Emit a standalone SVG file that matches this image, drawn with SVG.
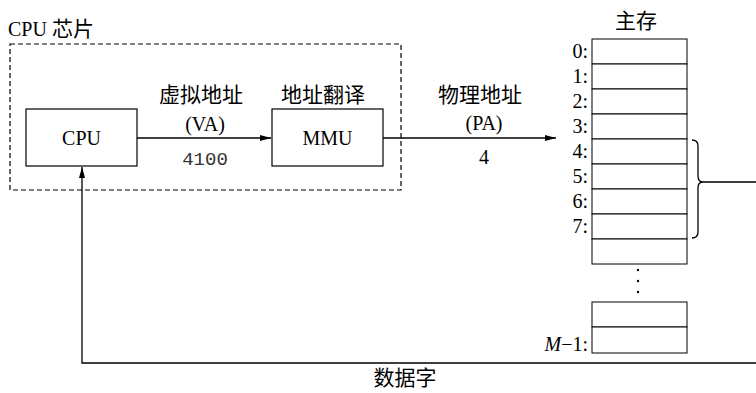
<svg xmlns="http://www.w3.org/2000/svg" width="756" height="393" viewBox="0 0 756 393">
<style>
.t{font-family:"Liberation Serif","Noto Sans CJK SC",serif;font-size:20px;fill:#000}
.c{font-family:"Noto Sans CJK SC","Liberation Serif",sans-serif;font-size:21px;fill:#000}
.m{font-family:"Liberation Mono",monospace;font-size:19px;fill:#333}
.box{fill:#fff;stroke:#000;stroke-width:1.2}
.cell{fill:#fff;stroke:#000;stroke-width:1}
.ln{fill:none;stroke:#000;stroke-width:1.3}
</style>
<defs>
<marker id="ah" markerWidth="12" markerHeight="8" refX="11" refY="4" orient="auto" markerUnits="userSpaceOnUse">
<path d="M0,1 L11,4 L0,7 Z" fill="#000"/>
</marker>
</defs>
<rect x="0" y="0" width="756" height="393" fill="#fff"/>
<g id="chip">
<rect x="10" y="44" width="391" height="146" fill="none" stroke="#000" stroke-width="1.2" stroke-dasharray="5,3"/>
<text class="t" x="8" y="36">CPU <tspan class="c">芯片</tspan></text>
</g>
<g id="connectors">
<line class="ln" x1="137" y1="138" x2="271" y2="138" marker-end="url(#ah)"/>
<line class="ln" x1="383" y1="138" x2="556" y2="138" marker-end="url(#ah)"/>
<path class="ln" d="M703,182 H760 V363 H82 V167" marker-end="url(#ah)"/>
<path class="ln" d="M692,140 Q698,140 698,146 V176 Q698,182 703,182 Q698,182 698,188 V232 Q698,238 692,238"/>
</g>
<g id="cpu">
<rect class="box" x="26" y="109" width="111" height="57"/>
<text class="t" x="81.5" y="145" text-anchor="middle">CPU</text>
</g>
<g id="mmu">
<rect class="box" x="272" y="109" width="111" height="57"/>
<text class="t" x="327.5" y="145" text-anchor="middle">MMU</text>
<text class="c" x="323" y="102" text-anchor="middle">地址翻译</text>
</g>
<g id="va-label">
<text class="c" x="201" y="102" text-anchor="middle">虚拟地址</text>
<text class="t" x="205" y="131" text-anchor="middle">(VA)</text>
<text class="m" x="205" y="165" text-anchor="middle">4100</text>
</g>
<g id="pa-label">
<text class="c" x="480" y="102" text-anchor="middle">物理地址</text>
<text class="t" x="484" y="130" text-anchor="middle">(PA)</text>
<text class="t" x="484" y="164" text-anchor="middle">4</text>
</g>
<g id="memory">
<text class="c" x="636" y="28" text-anchor="middle">主存</text>
<rect class="cell" x="592" y="39" width="95" height="25"/>
<rect class="cell" x="592" y="64" width="95" height="25"/>
<rect class="cell" x="592" y="89" width="95" height="25"/>
<rect class="cell" x="592" y="114" width="95" height="25"/>
<rect class="cell" x="592" y="139" width="95" height="25"/>
<rect class="cell" x="592" y="164" width="95" height="25"/>
<rect class="cell" x="592" y="189" width="95" height="25"/>
<rect class="cell" x="592" y="214" width="95" height="25"/>
<rect class="cell" x="592" y="239" width="95" height="25"/>
<rect class="cell" x="592" y="302" width="95" height="25"/>
<rect class="cell" x="592" y="327" width="95" height="26"/>
<circle cx="638" cy="270" r="1.2" fill="#000"/>
<circle cx="638" cy="281" r="1.2" fill="#000"/>
<circle cx="638" cy="292" r="1.2" fill="#000"/>
<text class="t" x="588" y="58" text-anchor="end">0:</text>
<text class="t" x="588" y="83" text-anchor="end">1:</text>
<text class="t" x="588" y="108" text-anchor="end">2:</text>
<text class="t" x="588" y="133" text-anchor="end">3:</text>
<text class="t" x="588" y="158" text-anchor="end">4:</text>
<text class="t" x="588" y="183" text-anchor="end">5:</text>
<text class="t" x="588" y="208" text-anchor="end">6:</text>
<text class="t" x="588" y="233" text-anchor="end">7:</text>
<text class="t" x="588" y="351" text-anchor="end"><tspan font-style="italic">M</tspan>−1:</text>
</g>
<g id="data-label">
<text class="c" x="405" y="385" text-anchor="middle">数据字</text>
</g>
</svg>
